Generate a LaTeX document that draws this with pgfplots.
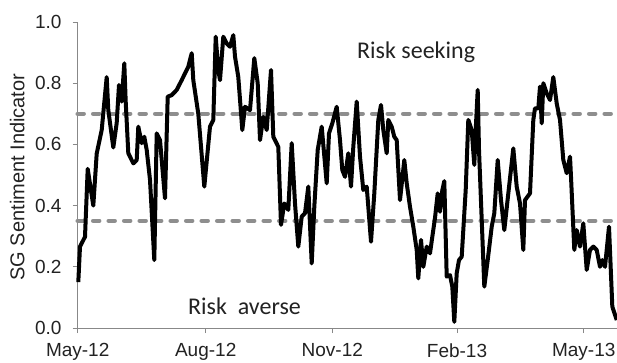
\documentclass[border=0pt]{standalone}
\usepackage{pgfplots}
\pgfplotsset{compat=1.18}
\usepackage{fontspec}
\setmainfont{Liberation Sans}
\newfontfamily\calfont{Carlito}
\definecolor{axgray}{HTML}{888888}
\definecolor{dashgray}{HTML}{8E8E8E}
\definecolor{txt}{HTML}{222222}
\begin{document}
\begin{tikzpicture}
\begin{axis}[
  at={(0,0)}, anchor=south west,
  scale only axis, width=539.3pt, height=306pt,
  xmin=77.7, xmax=617, ymin=0, ymax=1,
  clip=false,
  axis x line*=bottom, axis y line*=left,
  axis line style={-, color=axgray, line width=0.8pt},
  tick style={color=axgray, line width=0.8pt},
  tick align=outside, major tick length=5pt,
  xtick={77.7,205.7,332.3,457,583.7},
  xticklabels={May-12,Aug-12,Nov-12,Feb-13,May-13},
  ytick={0,0.2,0.4,0.6,0.8,1.0},
  /pgf/number format/assume math mode=true,
  ticklabel style={font=\fontsize{19}{22}\selectfont, text=txt},
  every tick label/.append style={inner sep=3pt},
  xticklabel style={yshift=-7.5pt},
  yticklabel style={xshift=-8pt, /pgf/number format/.cd, fixed, fixed zerofill, precision=1},
]
\addplot[dashgray, line width=4.5pt, line cap=round, dash pattern=on 6pt off 9.5pt] coordinates {(77.7,0.7) (617,0.7)};
\addplot[dashgray, line width=4.5pt, line cap=round, dash pattern=on 6pt off 9.5pt] coordinates {(77.7,0.35) (617,0.35)};
\addplot[black, line width=4pt, line join=round, mark=none] table {
x y
78.3 0.15
80 0.266
85 0.298
87.7 0.52
93.3 0.40
96.7 0.57
101.7 0.647
106.7 0.82
108.3 0.712
113.3 0.59
116.7 0.67
119 0.794
121.7 0.74
124.3 0.865
125.7 0.74
128.3 0.571
133.3 0.538
136.7 0.549
138.3 0.658
141.7 0.604
144.3 0.625
146.7 0.582
150 0.484
154.3 0.222
156.7 0.636
160 0.614
165 0.424
167.7 0.756
171.7 0.761
176.7 0.778
181.7 0.81
185 0.832
188.3 0.854
191.7 0.898
193.3 0.81
198.3 0.70
204.3 0.462
210 0.658
213.3 0.68
215.7 0.952
218.3 0.843
220 0.81
223.3 0.952
226.7 0.93
230 0.919
233.3 0.957
235 0.887
238.3 0.82
242.3 0.647
245 0.723
250 0.712
254.3 0.882
257.7 0.80
260 0.614
263.3 0.69
266.7 0.647
271 0.843
273.3 0.625
278.3 0.592
281 0.337
284.3 0.407
288.3 0.386
291.7 0.604
295 0.407
298.3 0.266
301.7 0.364
305 0.375
308.3 0.462
311.7 0.211
314.3 0.396
317.7 0.582
321.7 0.658
326.7 0.473
329 0.636
332.3 0.669
336.7 0.723
340 0.614
342.3 0.516
345 0.494
348.3 0.571
351 0.462
353.3 0.592
356.7 0.74
360 0.56
363.3 0.451
366.7 0.462
368.3 0.396
371 0.282
374.3 0.44
378.3 0.68
381 0.729
383.3 0.647
386.7 0.571
388.3 0.68
391.7 0.658
394.3 0.625
396.7 0.614
400 0.418
404.3 0.549
406.7 0.473
410 0.396
413.3 0.331
416.7 0.255
418.3 0.162
421 0.288
423.3 0.20
426.7 0.266
430 0.244
432.3 0.298
435 0.36
437.7 0.44
440 0.38
442.3 0.45
444.3 0.48
446.7 0.168
450 0.173
452.3 0.135
454.3 0.02
456.7 0.179
459 0.222
461.7 0.233
465.7 0.451
468.3 0.68
471.7 0.647
474.3 0.533
475.7 0.647
477.7 0.778
479 0.582
484.3 0.135
487.7 0.222
491.7 0.331
494.3 0.375
497.7 0.549
501 0.418
504.3 0.32
508.3 0.44
513.3 0.587
516.7 0.462
520 0.407
523.3 0.255
525 0.418
530 0.44
533.3 0.68
535 0.718
538.3 0.718
540 0.789
541.7 0.669
543.3 0.80
546.7 0.767
550 0.745
553.3 0.82
556.7 0.734
560 0.68
563.3 0.549
566.7 0.506
570 0.56
571 0.494
574.3 0.255
576.7 0.32
580 0.266
583.3 0.342
586.7 0.19
590 0.255
593.3 0.266
596.7 0.255
600 0.20
602.3 0.222
605 0.20
609 0.331
612.3 0.07
616.7 0.026
};
\node[anchor=base west, font=\calfont\fontsize{24}{28}\selectfont, text=txt, inner sep=0pt] at (axis cs:357,0.882) {Risk seeking};
\node[anchor=base west, font=\calfont\fontsize{24}{28}\selectfont, text=txt, inner sep=0pt] at (axis cs:188,0.0425) {Risk\ \ averse};
\node[rotate=90, anchor=base, font=\fontsize{20}{23}\selectfont, text=txt, inner sep=0pt] at (axis cs:24.5,0.493) {SG Sentiment Indicator};
\end{axis}
\pgfresetboundingbox
\path[use as bounding box] (-77.7pt,-34pt) rectangle (539.3pt,328pt);
\end{tikzpicture}
\end{document}
